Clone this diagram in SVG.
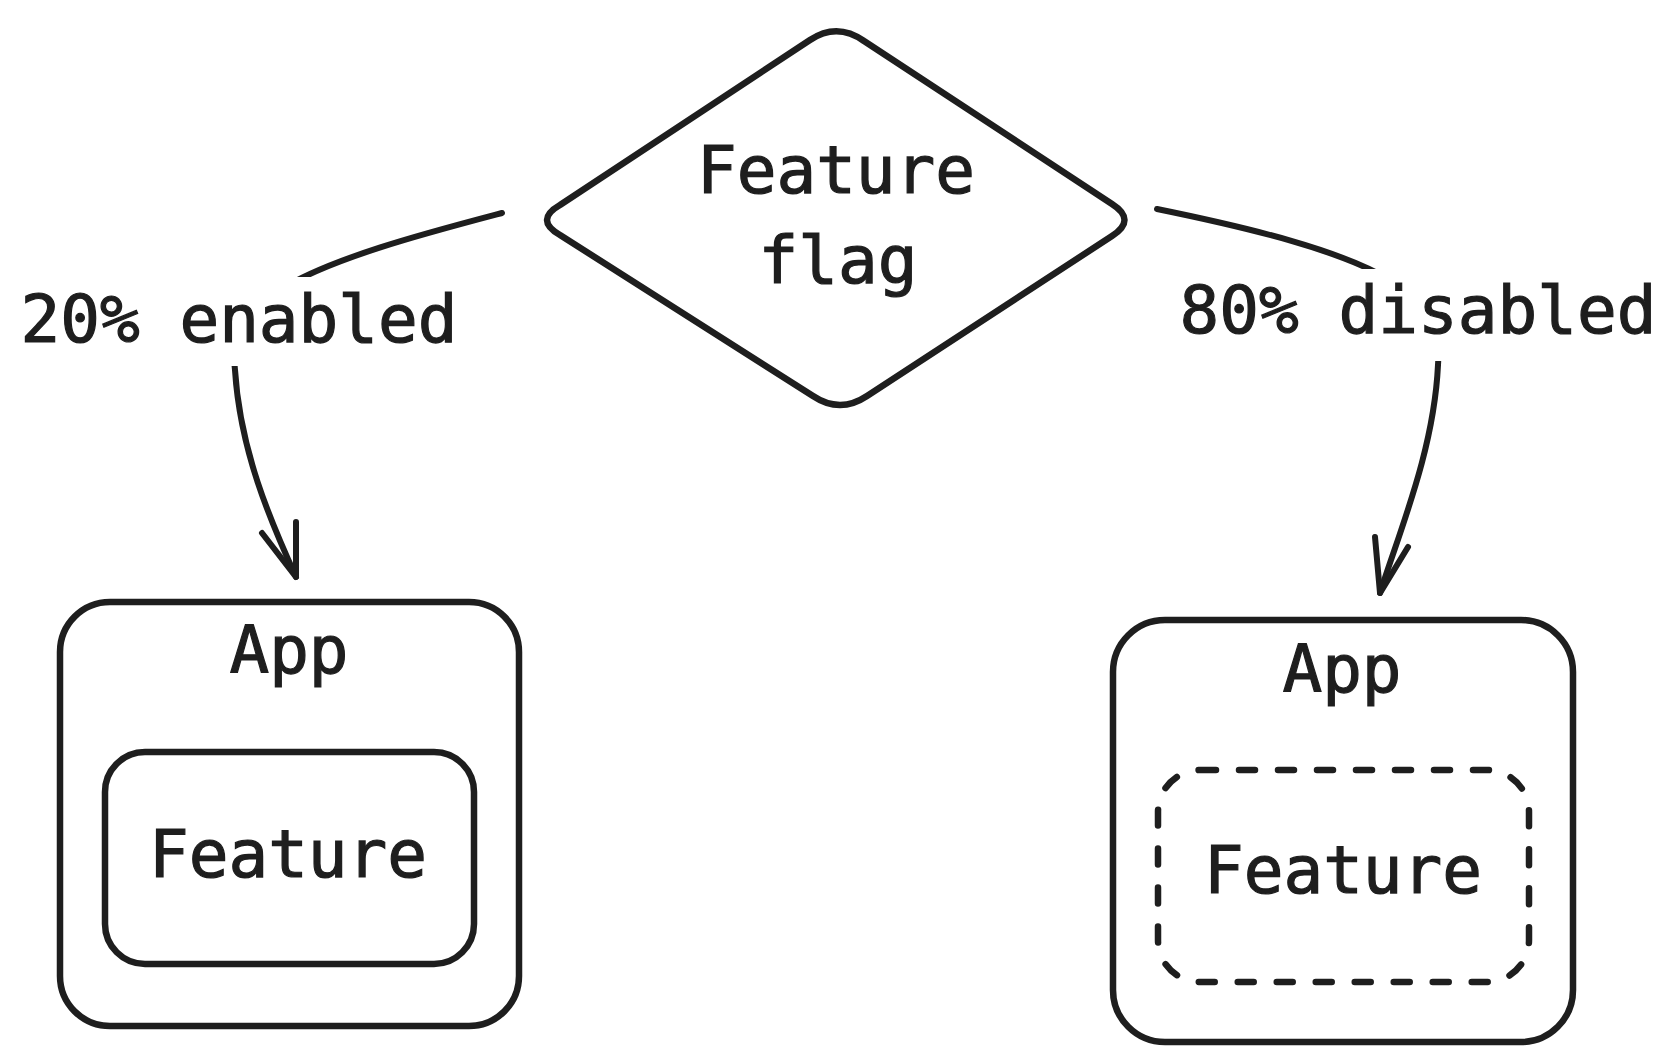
<svg xmlns="http://www.w3.org/2000/svg" width="1675" height="1063" viewBox="0 0 1675 1063">
<style>
.shape{fill:#ffffff;stroke:#1e1e1e;stroke-width:6.5;stroke-linejoin:round;stroke-linecap:round}
.dashed{stroke-dasharray:16 23}
.conn{fill:none;stroke:#1e1e1e;stroke-width:6;stroke-linecap:round;stroke-linejoin:round}
.mask{fill:#ffffff;stroke:none}
.t{font-family:"DejaVu Sans Mono","Liberation Mono",monospace;font-size:66px;fill:#1e1e1e;stroke:#1e1e1e;stroke-width:1.2;text-anchor:middle}
</style>
<rect width="1675" height="1063" fill="#ffffff"/>
<g id="connectors">
<path class="conn" d="M502,213 C430,232 330,258 280,290 C240,318 232,345 235,370 C240,450 270,520 296,577"/>
<path class="conn" d="M262,533 L296,577 L296,522"/>
<path class="conn" d="M1157,209 C1250,228 1340,250 1390,280 C1430,310 1440,340 1438,365 C1434,450 1400,530 1380,593"/>
<path class="conn" d="M1375,537 L1380,593 L1408,547"/>
</g>
<g id="label-enabled">
<rect class="mask" x="15" y="277" width="450" height="89"/>
<text class="t" x="239" y="342">20% enabled</text>
</g>
<g id="label-disabled">
<rect class="mask" x="1172" y="269" width="495" height="92"/>
<text class="t" x="1418" y="333">80% disabled</text>
</g>
<g id="feature-flag">
<path class="shape" d="M810,40 Q837,22 864,41 L1112,204 Q1137,220 1112,236 L867,396 Q840,414 813,396 L560,235 Q534,220 560,205 Z"/>
<text class="t" x="836" y="193">Feature</text>
<text class="t" x="838" y="283">flag</text>
</g>
<g id="app-enabled">
<rect class="shape" x="60" y="602" width="459" height="424" rx="50"/>
<text class="t" x="289" y="673">App</text>
</g>
<g id="feature-enabled">
<rect class="shape" x="105" y="752" width="369" height="212" rx="40"/>
<text class="t" x="288" y="877">Feature</text>
</g>
<g id="app-disabled">
<rect class="shape" x="1113" y="620" width="460" height="422" rx="52"/>
<text class="t" x="1342" y="692">App</text>
</g>
<g id="feature-disabled">
<rect class="shape dashed" x="1158" y="770" width="371" height="212" rx="42"/>
<text class="t" x="1343" y="893">Feature</text>
</g>
</svg>
